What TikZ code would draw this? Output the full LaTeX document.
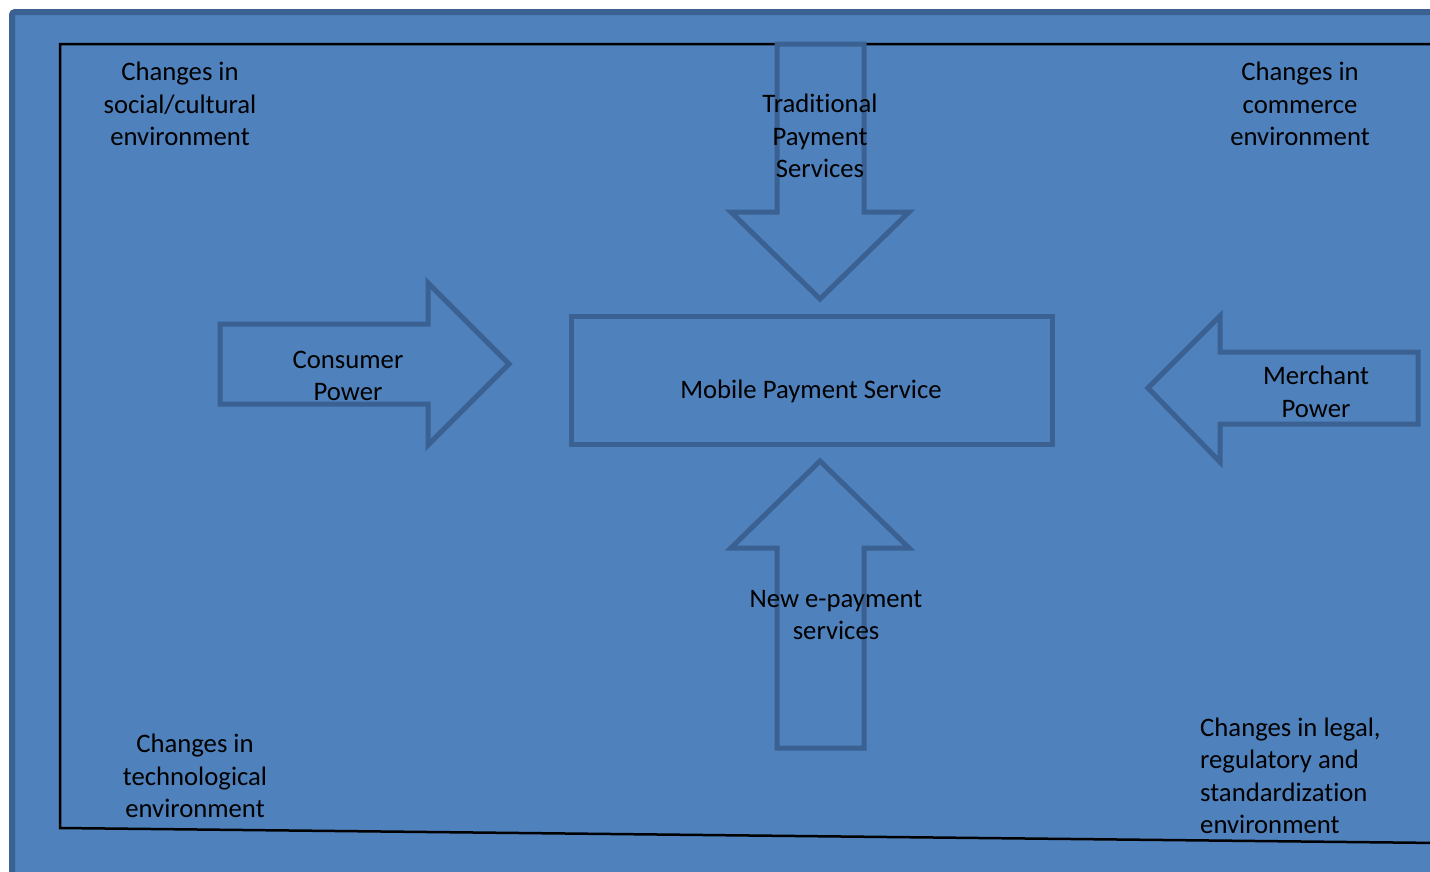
\documentclass[tikz,border=0pt]{standalone}
\usepackage{fontspec}
\setmainfont{Carlito}[Ligatures=NoCommon]
\usetikzlibrary{positioning}
\definecolor{pageblue}{HTML}{4F81BD}
\definecolor{edgeblue}{HTML}{3A6191}
\tikzstyle{every picture}+=[x=1pt,y=-1pt]
\tikzstyle{every picture}+=[join=miter]
\tikzstyle{outline}=[draw=edgeblue,line width=5pt]
\tikzstyle{frame}=[draw=black,line width=2.5pt]
\tikzstyle{txt}=[align=center,inner sep=0pt,font=\fontsize{26.7}{32.5}\selectfont]
\begin{document}
\begin{tikzpicture}
\useasboundingbox (0,0) rectangle (1430,871);
\fill[white] (0,0) rectangle (1430,871);
\draw[draw=edgeblue,fill=pageblue,line width=6pt,rounded corners=3pt] (12,12) rectangle (1460,900);

% inner frame
\draw[frame] (1440,44) -- (60,44) -- (60,828) -- (1440,843);

% arrows
\draw[outline] (777,44) -- (864,44) -- (864,212) -- (909,212) -- (820,299)
   -- (731,212) -- (777,212) -- cycle;
\draw[outline] (220,324) -- (428,324) -- (428,283) -- (509,364) -- (428,445)
   -- (428,404) -- (220,404) -- cycle;
\draw[outline] (1418,352) -- (1220,352) -- (1220,316) -- (1148,388) -- (1220,462)
   -- (1220,424) -- (1418,424) -- cycle;
\draw[outline] (777,748) -- (864,748) -- (864,548) -- (909,548) -- (820,461)
   -- (731,548) -- (777,548) -- cycle;
\draw[outline] (571,316) rectangle (1052,444);

% texts
\node[txt] (social) at (180,104) {Changes in\\social/cultural\\environment};
\node[txt] (trad) at (820,136) {Traditional\\Payment\\Services};
\node[txt] (commerce) at (1300,104) {Changes in\\commerce\\environment};
\node[txt] (consumer) at (348,376) {Consumer\\Power};
\node[txt] (mobile) at (811,391) {Mobile Payment Service};
\node[txt] (merchant) at (1316,392) {Merchant\\Power};
\node[txt] (newpay) at (836,615) {New e-payment\\services};
\node[txt] (tech) at (195,776) {Changes in\\technological\\environment};
\node[txt,align=left,anchor=west] (legal) at (1200,776) {Changes in legal,\\regulatory and\\standardization\\environment};
\end{tikzpicture}
\end{document}
